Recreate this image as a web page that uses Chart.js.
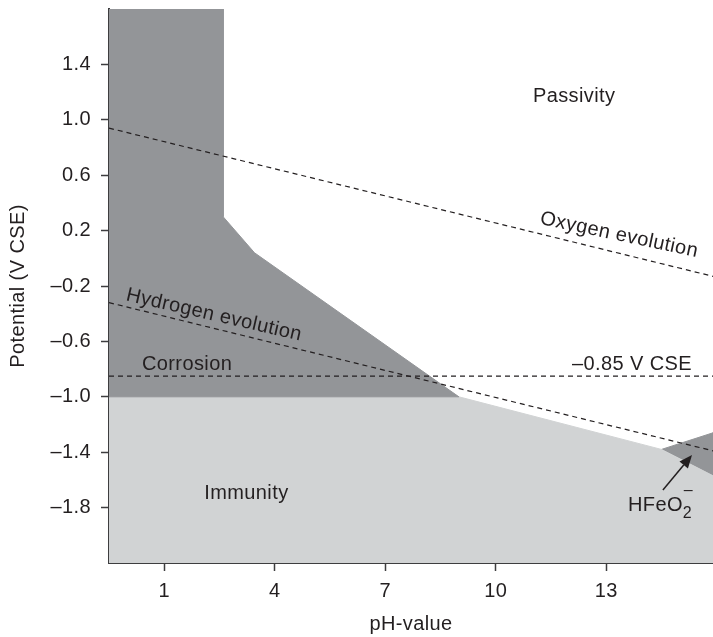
<!DOCTYPE html>
<html>
<head>
<meta charset="utf-8">
<title>Pourbaix diagram</title>
<script src="https://cdn.jsdelivr.net/npm/chart.js@4.4.1/dist/chart.umd.min.js"></script>
<style>
  html, body { margin: 0; padding: 0; background: #fff; }
  #wrap { width: 713px; height: 637px; }
</style>
</head>
<body>
<div id="wrap"><canvas id="pourbaix"></canvas></div>
<script>
// region outlines: pH and potential (V vs CSE)
const corrosionPH = [-0.5, 2.6, 2.6, 3.45, 9.0, -0.5];
const corrosionE  = [1.8, 1.8, 0.3, 0.04, -1.0, -1.0];
const immunityPH  = [-0.5, 9.0, 14.5, 15.9, 15.9, -0.5];
const immunityE   = [-1.0, -1.0, -1.38, -1.57, -2.2, -2.2];
const hfeo2PH     = [14.5, 15.9, 15.9];
const hfeo2E      = [-1.38, -1.26, -1.57];

// dashed lines
const oxygenPH    = [-0.5, 15.9];
const oxygenE     = [0.94, -0.13];
const hydrogenPH  = [-0.5, 15.9];
const hydrogenE   = [-0.32, -1.39];
const protectPH   = [-0.5, 15.9];
const protectE    = [-0.85, -0.85];

// axis ticks
const xTicks = [1, 4, 7, 10, 13];
const yTicks = [-1.8, -1.4, -1.0, -0.6, -0.2, 0.2, 0.6, 1.0, 1.4];

const INK = "#231f20";
const AXIS = "#3d3d3f";
const DARK = "#939598";
const LIGHT = "#d1d3d4";
const FONT = '"Liberation Sans", Arial, Helvetica, sans-serif';
const SIZE = 20;

function pts(xs, ys) {
  return xs.map((x, i) => ({ x: x, y: ys[i] }));
}

function region(xs, ys, color) {
  return {
    data: pts(xs, ys),
    showLine: true,
    fill: "shape",
    backgroundColor: color,
    borderColor: color,
    borderWidth: 1,
    pointRadius: 0,
    order: 2,
  };
}

function dashed(xs, ys) {
  return {
    data: pts(xs, ys),
    showLine: true,
    fill: false,
    borderColor: INK,
    borderWidth: 1.2,
    borderDash: [5, 4],
    pointRadius: 0,
    order: 1,
  };
}

// text placed in data coordinates
const regionLabels = [
  { text: "Passivity", ph: 12.13, e: 1.165 },
  { text: "Oxygen evolution", ph: 13.35, e: 0.168, angle: 12 },
  { text: "Hydrogen evolution", ph: 2.35, e: -0.41, angle: 13 },
  { text: "Corrosion", ph: 1.62, e: -0.77 },
  { text: "\u20130.85 V CSE", ph: 13.7, e: -0.77 },
  { text: "Immunity", ph: 3.23, e: -1.7 },
];

const labelsPlugin = {
  id: "regionLabels",
  beforeDraw(chart) {
    chart.ctx.letterSpacing = "0.4px";
  },
  afterDatasetsDraw(chart) {
    const { ctx, scales: { x, y } } = chart;
    ctx.save();
    ctx.fillStyle = INK;
    ctx.font = SIZE + "px " + FONT;
    ctx.textAlign = "center";
    ctx.textBaseline = "middle";
    regionLabels.forEach((l) => {
      ctx.save();
      ctx.translate(x.getPixelForValue(l.ph), y.getPixelForValue(l.e));
      ctx.rotate(((l.angle || 0) * Math.PI) / 180);
      ctx.fillText(l.text, 0, 0);
      ctx.restore();
    });

    // HFeO2- with subscript and superscript
    let hx = x.getPixelForValue(13.59);
    let hy = y.getPixelForValue(-1.825);
    ctx.textAlign = "left";
    ctx.textBaseline = "alphabetic";
    ctx.fillText("HFeO", hx, hy);
    hx += ctx.measureText("HFeO").width;
    ctx.font = "16px " + FONT;
    ctx.fillText("2", hx, hy + 7);
    ctx.fillText("\u2013", hx + 1, hy - 16);

    // arrow pointing at the small region
    const x0 = x.getPixelForValue(14.54), y0 = y.getPixelForValue(-1.673);
    const x1 = x.getPixelForValue(15.33), y1 = y.getPixelForValue(-1.42);
    const a = Math.atan2(y1 - y0, x1 - x0);
    const head = 13, half = 5.5;
    const bx = x1 - head * Math.cos(a), by = y1 - head * Math.sin(a);
    ctx.strokeStyle = INK;
    ctx.lineWidth = 1.5;
    ctx.beginPath();
    ctx.moveTo(x0, y0);
    ctx.lineTo(bx, by);
    ctx.stroke();
    ctx.beginPath();
    ctx.moveTo(x1, y1);
    ctx.lineTo(bx - half * Math.sin(a), by + half * Math.cos(a));
    ctx.lineTo(bx + half * Math.sin(a), by - half * Math.cos(a));
    ctx.closePath();
    ctx.fill();
    ctx.restore();
  },
};

const config = {
  type: "scatter",
  data: {
    datasets: [
      dashed(oxygenPH, oxygenE),
      dashed(hydrogenPH, hydrogenE),
      dashed(protectPH, protectE),
      region(corrosionPH, corrosionE, DARK),
      region(immunityPH, immunityE, LIGHT),
      region(hfeo2PH, hfeo2E, DARK),
    ],
  },
  options: {
    responsive: true,
    maintainAspectRatio: false,
    animation: false,
    events: [],
    layout: { padding: { top: 9, right: 0, bottom: 0, left: 0 } },
    plugins: {
      legend: { display: false },
      tooltip: { enabled: false },
    },
    scales: {
      x: {
        type: "linear",
        min: -0.5,
        max: 15.9,
        afterBuildTicks: (s) => { s.ticks = xTicks.map((v) => ({ value: v })); },
        afterFit: (s) => {
          s.height = 74;
          s.paddingLeft = 0;
          s.paddingRight = 0;
        },
        grid: { display: true, drawOnChartArea: false, drawTicks: true, tickLength: 8, tickWidth: 1.5, tickColor: AXIS },
        border: { display: true, color: AXIS, width: 2 },
        ticks: { color: INK, padding: 8, font: { family: FONT, size: SIZE } },
        title: {
          display: true,
          text: "pH-value",
          color: INK,
          padding: { top: 0, bottom: 1 },
          font: { family: FONT, size: SIZE },
        },
      },
      y: {
        type: "linear",
        min: -2.2,
        max: 1.8,
        afterBuildTicks: (s) => { s.ticks = yTicks.map((v) => ({ value: v })); },
        afterFit: (s) => {
          s.width = 109;
          s.paddingTop = 0;
          s.paddingBottom = 0;
        },
        grid: { display: true, drawOnChartArea: false, drawTicks: true, tickLength: 8, tickWidth: 1.5, tickColor: AXIS },
        border: { display: true, color: AXIS, width: 2 },
        ticks: {
          color: INK,
          padding: 10,
          font: { family: FONT, size: SIZE },
          callback: (v) => v.toFixed(1).replace("-", "\u2013"),
        },
        title: {
          display: true,
          text: "Potential (V CSE)",
          color: INK,
          padding: { top: 6, bottom: 0 },
          font: { family: FONT, size: SIZE },
        },
      },
    },
  },
  plugins: [labelsPlugin],
};

const pourbaixChart = new Chart(document.getElementById("pourbaix"), config);
</script>
</body>
</html>
